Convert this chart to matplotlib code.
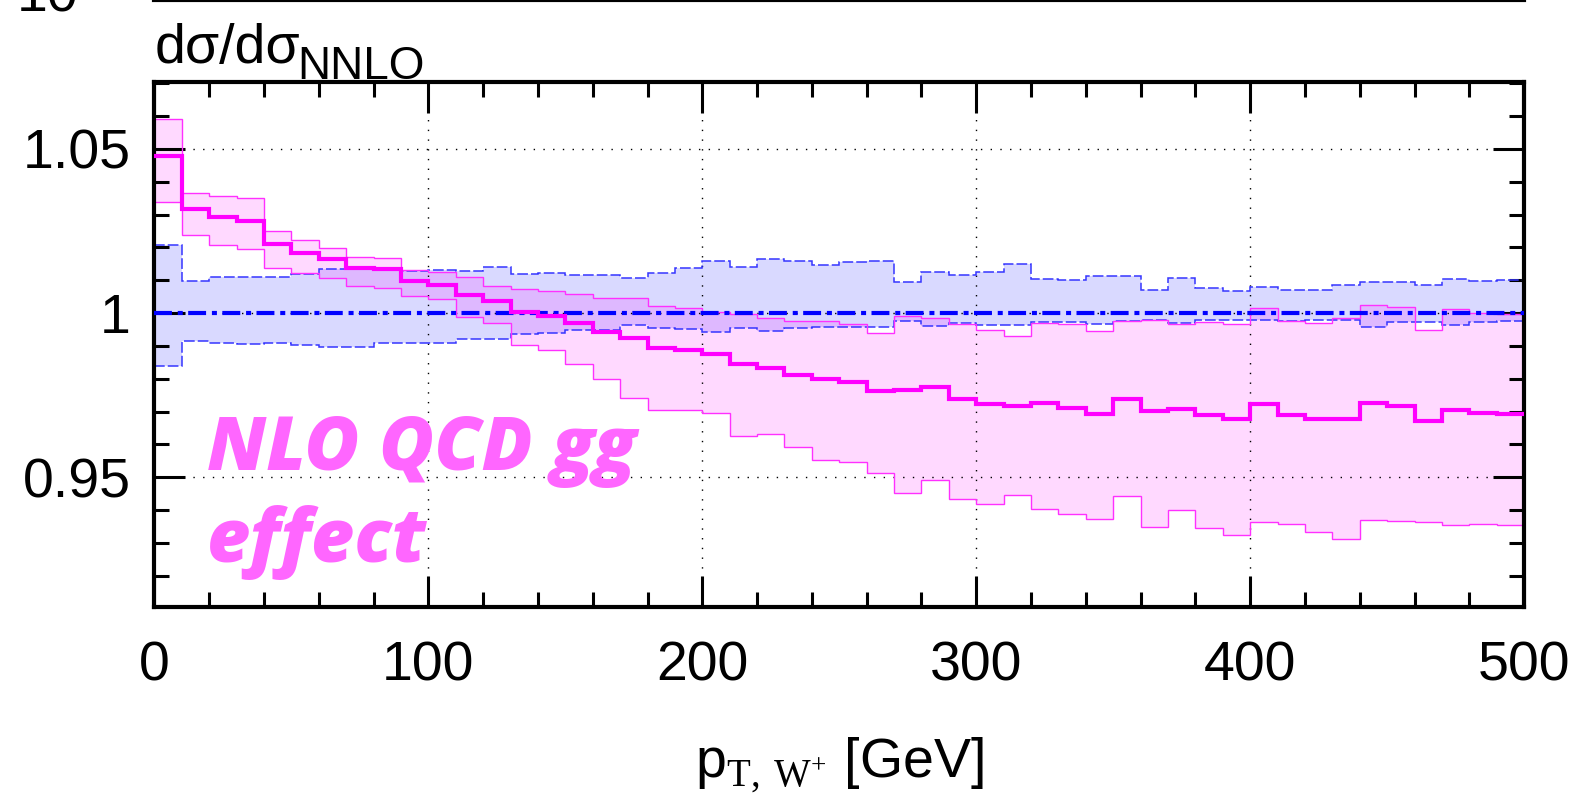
import matplotlib
matplotlib.use("Agg")
import matplotlib.pyplot as plt
from matplotlib.lines import Line2D
from matplotlib.ticker import MultipleLocator
import numpy as np

# bin edges in pT [GeV], 10 GeV bins
edges = np.arange(0, 510, 10)

# NLO QCD gg effect (magenta), ratio to NNLO
gg_central = [1.048, 1.0316, 1.0294, 1.0282, 1.021, 1.0184, 1.0164, 1.0139, 1.0133, 1.0097,
              1.0087, 1.0055, 1.0038, 1.0003, 0.9991, 0.9969, 0.9944, 0.9923, 0.9894, 0.9887,
              0.9875, 0.9845, 0.9834, 0.9813, 0.9798, 0.9791, 0.9763, 0.9767, 0.9775, 0.974,
              0.9722, 0.9717, 0.9727, 0.9712, 0.9692, 0.9738, 0.9701, 0.9709, 0.9691, 0.9677,
              0.9723, 0.9691, 0.9677, 0.9678, 0.9725, 0.9716, 0.9672, 0.9704, 0.9696, 0.9692]
gg_upper = [1.059, 1.0367, 1.0357, 1.035, 1.0251, 1.0223, 1.0199, 1.017, 1.0167, 1.0131,
            1.0125, 1.011, 1.0082, 1.0075, 1.0067, 1.0058, 1.0045, 1.0046, 1.0023, 1.0017,
            1.0003, 0.9998, 0.9986, 0.9977, 0.9975, 0.9967, 0.9941, 0.9992, 0.9986, 0.9966,
            0.9948, 0.9931, 0.997, 0.9966, 0.9945, 0.9975, 0.9979, 0.9966, 0.9972, 0.9966,
            1.0017, 0.9975, 0.9969, 0.9984, 1.0025, 1.0019, 0.9948, 1.0014, 0.9999, 0.9998]
gg_lower = [1.0337, 1.0238, 1.0207, 1.0195, 1.0139, 1.0121, 1.0106, 1.0083, 1.0078, 1.0052,
            1.0042, 0.9988, 0.997, 0.9902, 0.9887, 0.9844, 0.9798, 0.9743, 0.9704, 0.9704,
            0.9697, 0.9626, 0.9633, 0.9592, 0.9554, 0.9548, 0.9513, 0.9452, 0.9491, 0.9433,
            0.942, 0.9446, 0.9403, 0.9387, 0.9372, 0.9443, 0.9348, 0.9402, 0.9345, 0.9323,
            0.9363, 0.9359, 0.9333, 0.9312, 0.9371, 0.9366, 0.9363, 0.9356, 0.9358, 0.9354]

# NNLO reference (blue)
nnlo_central = [1.0] * 50
nnlo_upper = [1.0209, 1.0099, 1.0109, 1.011, 1.0109, 1.0118, 1.0134, 1.0134, 1.0134, 1.0128,
              1.013, 1.0128, 1.0141, 1.012, 1.0121, 1.0116, 1.0115, 1.0108, 1.0123, 1.0136,
              1.016, 1.0141, 1.0165, 1.016, 1.0147, 1.0156, 1.016, 1.0095, 1.0126, 1.0116,
              1.0126, 1.0149, 1.0103, 1.01, 1.0114, 1.0113, 1.0072, 1.0108, 1.0077, 1.0067,
              1.008, 1.0072, 1.0069, 1.0085, 1.0095, 1.0095, 1.0085, 1.0104, 1.0098, 1.01]
nnlo_lower = [0.9838, 0.9915, 0.9908, 0.9907, 0.991, 0.9902, 0.9897, 0.9897, 0.991, 0.991,
              0.991, 0.992, 0.992, 0.9935, 0.994, 0.995, 0.995, 0.9963, 0.9955, 0.9952,
              0.9943, 0.9956, 0.9946, 0.9955, 0.9958, 0.9959, 0.9957, 0.9977, 0.996, 0.9969,
              0.9963, 0.9963, 0.9974, 0.9974, 0.9968, 0.9975, 0.9978, 0.9969, 0.9979, 0.9979,
              0.9979, 0.9977, 0.998, 0.998, 0.9958, 0.9972, 0.9974, 0.9963, 0.9973, 0.9975]

x_ticks = [0, 100, 200, 300, 400, 500]
y_ticks = [0.95, 1.0, 1.05]
y_ticklabels = ["0.95", "1", "1.05"]

plt.rcParams["font.family"] = ["Liberation Sans", "DejaVu Sans"]
plt.rcParams["mathtext.fontset"] = "custom"
plt.rcParams["mathtext.rm"] = "Liberation Serif"
plt.rcParams["mathtext.sf"] = "Liberation Sans"

fig = plt.figure(figsize=(15.73, 7.96), dpi=100)
ax = fig.add_axes([0.0982, 0.2374, 0.8707, 0.6596])

# bands
ax.stairs(nnlo_upper, edges, baseline=nnlo_lower, fill=True,
          facecolor=(0, 0, 1, 0.15), lw=0, zorder=1)
ax.stairs(gg_upper, edges, baseline=gg_lower, fill=True,
          facecolor=(1, 0, 1, 0.15), lw=0, zorder=1)

# band edges
for vals in (nnlo_upper, nnlo_lower):
    ax.stairs(vals, edges, baseline=None, edgecolor="#3535ff", lw=1.1,
              linestyle=(0, (7, 2)), zorder=2)
for vals in (gg_upper, gg_lower):
    ax.stairs(vals, edges, baseline=None, edgecolor="#ff30ff", lw=1.0, zorder=2)

# central lines
ax.stairs(nnlo_central, edges, baseline=None, edgecolor="#0000ff", lw=3,
          linestyle=(0, (4.3, 1.4, 1.2, 1.3)), zorder=3)
ax.stairs(gg_central, edges, baseline=None, edgecolor="#ff00ff", lw=3, zorder=3)

ax.set_xlim(0, 500)
ax.set_ylim(0.9105, 1.0704)
ax.set_xticks(x_ticks)
ax.set_yticks(y_ticks)
ax.set_yticklabels(y_ticklabels)
ax.xaxis.set_minor_locator(MultipleLocator(20))
ax.yaxis.set_minor_locator(MultipleLocator(0.01))
ax.tick_params(which="both", direction="in", top=True, right=True, width=2.2,
               labelsize=40)
ax.tick_params(which="major", length=22)
ax.tick_params(which="minor", length=11)
ax.tick_params(axis="x", which="major", pad=24)
ax.tick_params(axis="y", which="major", pad=17)
for sp in ax.spines.values():
    sp.set_linewidth(3)

ax.grid(True, which="major", color="black", lw=1.0, linestyle=(0, (1, 6)))

# y label: d sigma / d sigma_NNLO, with a large subscript
ylab = ax.text(0.0, 1.036, "dσ/dσ", transform=ax.transAxes,
               ha="left", va="baseline", fontsize=40)
ax.annotate("NNLO", xy=(1, 0), xycoords=ylab, xytext=(-2, -3),
            textcoords="offset points", ha="left", va="baseline", fontsize=33)

ax.text(0.5, -0.325, r"p$_{\mathrm{T,\,W^{+}}}$ [GeV]", transform=ax.transAxes,
        ha="center", va="baseline", fontsize=40)

ax.text(19.3, 0.9521, "NLO QCD gg", color="#ff66ff", fontsize=54,
        family=["Open Sans", "DejaVu Sans"], weight=800, style="italic",
        ha="left", va="baseline")
ax.text(19.3, 0.9241, "effect", color="#ff66ff", fontsize=54,
        family=["Open Sans", "DejaVu Sans"], weight=800, style="italic",
        ha="left", va="baseline")

# remnants of the panel above
fig.text(0.0496, 0.985, "10", ha="right", va="baseline", fontsize=40)
fig.add_artist(Line2D([0.0982, 0.9689], [0.9995, 0.9995], color="black", lw=3,
                      transform=fig.transFigure))

fig.savefig("out.png", dpi=100)
